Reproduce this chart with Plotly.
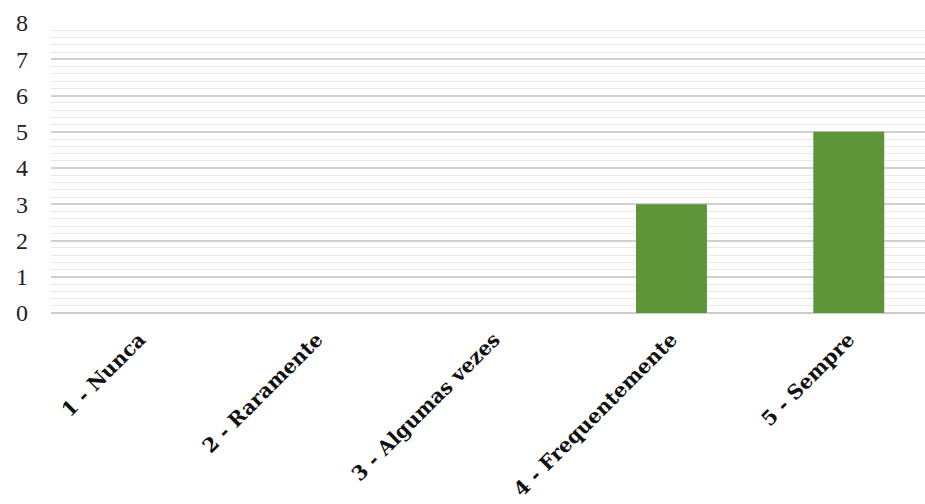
import plotly.graph_objects as go

# Frequency of answers on a 5-point scale
categories = ["1 - Nunca", "2 - Raramente", "3 - Algumas vezes", "4 - Frequentemente", "5 - Sempre"]
counts = [0, 0, 0, 3, 5]
y_ticks = [0, 1, 2, 3, 4, 5, 6, 7, 8]

fig = go.Figure(
    go.Bar(
        x=categories,
        y=counts,
        marker=dict(color="#5E9538", line=dict(width=0)),
        width=0.4,
    )
)

fig.update_layout(
    width=925,
    height=504,
    margin=dict(l=51, r=0, t=23, b=191),
    paper_bgcolor="white",
    plot_bgcolor="white",
    showlegend=False,
    bargap=0.6,
)

fig.update_xaxes(
    type="category",
    range=[-0.5, 4.43],
    tickangle=-45,
    tickfont=dict(family="DejaVu Serif", size=20, color="#111111", weight="bold"),
    showgrid=False,
    showline=False,
    ticks="",
    ticklabelstandoff=10,
)

fig.update_yaxes(
    range=[0, 8],
    tickvals=y_ticks,
    ticktext=[str(v) for v in y_ticks],
    tickfont=dict(family="Liberation Serif", size=24, color="#222222"),
    showgrid=True,
    gridcolor="#d0d0d0",
    gridwidth=1.5,
    zeroline=True,
    zerolinecolor="#cccccc",
    zerolinewidth=1.5,
    showline=False,
    ticks="",
    ticklabelstandoff=22,
    minor=dict(dtick=0.2, showgrid=True, gridcolor="#e8e8e8", gridwidth=1.2),
)

fig.write_html("out.html")
